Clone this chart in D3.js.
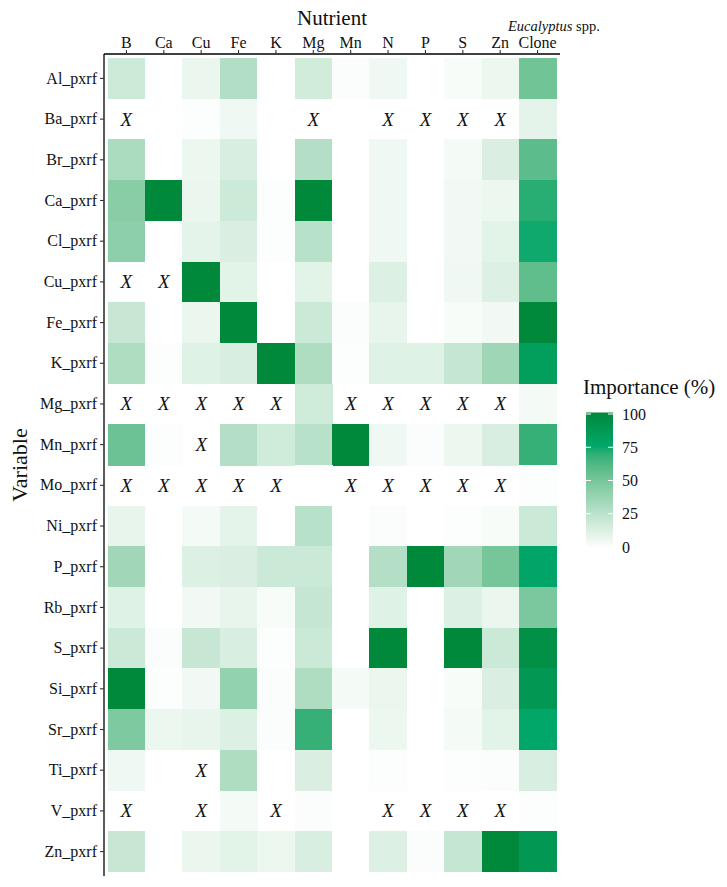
<!DOCTYPE html>
<html>
<head>
<meta charset="utf-8">
<script src="https://cdn.jsdelivr.net/npm/d3@7"></script>
</head>
<body style="margin:0;padding:0;background:#ffffff">
<svg id="chart" width="727" height="887" font-family="Liberation Serif" style="display:block"></svg>
<script>
// ---- data ----
const variables = ["Al_pxrf","Ba_pxrf","Br_pxrf","Ca_pxrf","Cl_pxrf","Cu_pxrf","Fe_pxrf","K_pxrf",
  "Mg_pxrf","Mn_pxrf","Mo_pxrf","Ni_pxrf","P_pxrf","Rb_pxrf","S_pxrf","Si_pxrf","Sr_pxrf",
  "Ti_pxrf","V_pxrf","Zn_pxrf"];
const nutrients = ["B","Ca","Cu","Fe","K","Mg","Mn","N","P","S","Zn","Clone"];
// importance (%) per variable row, in nutrient order; null = not used (X)
const importance = [
  [19, 0, 8, 29, 0, 17, 2, 6, 0, 3, 7, 52],                              // Al
  [null, 0, 1, 6, 0, null, 0, null, null, null, null, 10],               // Ba
  [31, 0, 7, 15, 0, 28, 0, 6, 0, 4, 14, 58],                             // Br
  [44, 100, 8, 19, 1, 100, 0, 6, 0, 5, 7, 71],                           // Ca
  [42, 0, 10, 14, 1, 27, 0, 6, 0, 5, 11, 74],                            // Cl
  [null, null, 100, 11, 0, 11, 0, 13, 0, 6, 13, 57],                     // Cu
  [21, 0, 8, 100, 0, 20, 2, 9, 0, 3, 5, 100],                            // Fe
  [30, 1, 12, 15, 100, 30, 1, 12, 12, 22, 36, 83],                       // K
  [null, null, null, null, null, 18, null, null, null, null, null, 4],    // Mg
  [53, 1, null, 28, 18, 27, 100, 6, 2, 7, 15, 68],                       // Mn
  [null, null, null, null, null, 0, null, null, null, null, null, 1],     // Mo
  [9, 0, 4, 10, 0, 27, 0, 2, 0, 1, 3, 20],                               // Ni
  [35, 0, 13, 14, 20, 20, 0, 28, 100, 35, 50, 77],                       // P
  [12, 0, 5, 9, 3, 22, 0, 12, 0, 13, 8, 48],                             // Rb
  [20, 2, 21, 15, 1, 20, 0, 100, 0, 100, 20, 94],                        // S
  [100, 1, 5, 40, 2, 30, 4, 8, 0, 3, 14, 88],                            // Si
  [47, 7, 9, 13, 2, 68, 0, 7, 0, 4, 11, 76],                             // Sr
  [6, 0, null, 30, 0, 14, 0, 1, 0, 1, 2, 15],                            // Ti
  [null, 0, null, 4, null, 2, 0, null, null, null, null, 1],             // V
  [21, 0, 8, 11, 7, 15, 0, 13, 2, 22, 100, 88]                           // Zn
];
const legendTicks = [0, 25, 50, 75, 100];

// ---- layout ----
const FONT = "Liberation Serif";
const svg = d3.select("#chart");
const panel = { left: 104, right: 560, top: 54, bottom: 876 };

const x = d3.scaleBand().domain(nutrients).range([panel.left, panel.right])
  .paddingInner(0).paddingOuter(0.1);
const y = d3.scaleBand().domain(variables).range([panel.top, panel.bottom])
  .paddingInner(0).paddingOuter(0.1);

const color = d3.scaleLinear().domain([0, 75, 100])
  .range(["#ffffff", "#00a86b", "#00883b"])
  .interpolate(d3.interpolateLab).clamp(true);

const cells = [];
variables.forEach((v, i) => nutrients.forEach((n, j) => {
  cells.push({ v, n, value: importance[i][j] });
}));

// tiles
svg.append("g").selectAll("rect")
  .data(cells.filter(d => d.value !== null))
  .join("rect")
  .attr("x", d => x(d.n))
  .attr("y", d => y(d.v))
  .attr("width", x.bandwidth() + 0.5)
  .attr("height", y.bandwidth() + 0.5)
  .attr("fill", d => color(d.value))
  .attr("shape-rendering", "crispEdges");

// X marks
svg.append("g").selectAll("text")
  .data(cells.filter(d => d.value === null))
  .join("text")
  .attr("x", d => x(d.n) + x.bandwidth() / 2)
  .attr("y", d => y(d.v) + y.bandwidth() / 2 + 6.5)
  .attr("text-anchor", "middle")
  .attr("font-family", FONT)
  .attr("font-style", "italic")
  .attr("font-size", 19)
  .attr("fill", "#111")
  .text("X");

// axes
const yAxis = svg.append("g")
  .attr("transform", `translate(${panel.left},0)`)
  .call(d3.axisLeft(y).tickSize(4).tickSizeOuter(0).tickPadding(3));
const xAxis = svg.append("g")
  .attr("transform", `translate(0,${panel.top})`)
  .call(d3.axisTop(x).tickSize(4).tickSizeOuter(0).tickPadding(2));
[yAxis, xAxis].forEach(g => {
  g.attr("font-family", FONT).attr("font-size", 16);
  g.select(".domain").attr("stroke", "#000").attr("stroke-width", 1.3);
  g.selectAll(".tick line").attr("stroke", "#333").attr("stroke-width", 1.1);
  g.selectAll(".tick text").attr("font-family", FONT).attr("font-size", 16).attr("fill", "#111");
});
yAxis.select(".domain").attr("d", `M0,${panel.top}V${panel.bottom}`);
xAxis.select(".domain").attr("d", `M${panel.left},0H${panel.right}`);

// titles
svg.append("text")
  .attr("x", (panel.left + panel.right) / 2).attr("y", 25)
  .attr("text-anchor", "middle")
  .attr("font-family", FONT).attr("font-size", 21).attr("fill", "#111")
  .text("Nutrient");

svg.append("text")
  .attr("transform", `translate(27,${(panel.top + panel.bottom) / 2}) rotate(-90)`)
  .attr("text-anchor", "middle")
  .attr("font-family", FONT).attr("font-size", 22).attr("fill", "#111")
  .text("Variable");

const euc = svg.append("text")
  .attr("x", 508).attr("y", 31)
  .attr("font-family", FONT).attr("font-size", 14.5).attr("fill", "#111");
euc.append("tspan").attr("font-style", "italic").text("Eucalyptus");
euc.append("tspan").text(" spp.");

// legend
const lg = { x: 586, w: 27, y0: 547, y1: 414 };
const ly = d3.scaleLinear().domain([0, 100]).range([lg.y0, lg.y1]);

svg.append("text")
  .attr("x", 583).attr("y", 394)
  .attr("font-family", FONT).attr("font-size", 21).attr("fill", "#111")
  .text("Importance (%)");

const defs = svg.append("defs");
const grad = defs.append("linearGradient").attr("id", "lgGrad")
  .attr("x1", 0).attr("x2", 0).attr("y1", 1).attr("y2", 0);
d3.range(0, 101, 5).forEach(v => {
  grad.append("stop").attr("offset", `${v}%`).attr("stop-color", color(v));
});
svg.append("rect")
  .attr("x", lg.x).attr("y", ly(100) - 1.5)
  .attr("width", lg.w).attr("height", ly(0) - ly(100) + 3)
  .attr("fill", "url(#lgGrad)");

const lt = svg.append("g").selectAll("g").data(legendTicks).join("g");
lt.append("line")
  .attr("x1", lg.x).attr("x2", lg.x + 5)
  .attr("y1", d => ly(d)).attr("y2", d => ly(d))
  .attr("stroke", "#ffffff").attr("stroke-width", 1);
lt.append("line")
  .attr("x1", lg.x + lg.w - 5).attr("x2", lg.x + lg.w)
  .attr("y1", d => ly(d)).attr("y2", d => ly(d))
  .attr("stroke", "#ffffff").attr("stroke-width", 1);
lt.append("text")
  .attr("x", 622).attr("y", d => ly(d) + 5.5)
  .attr("font-family", FONT).attr("font-size", 16).attr("fill", "#111")
  .text(d => d);
</script>
</body>
</html>
